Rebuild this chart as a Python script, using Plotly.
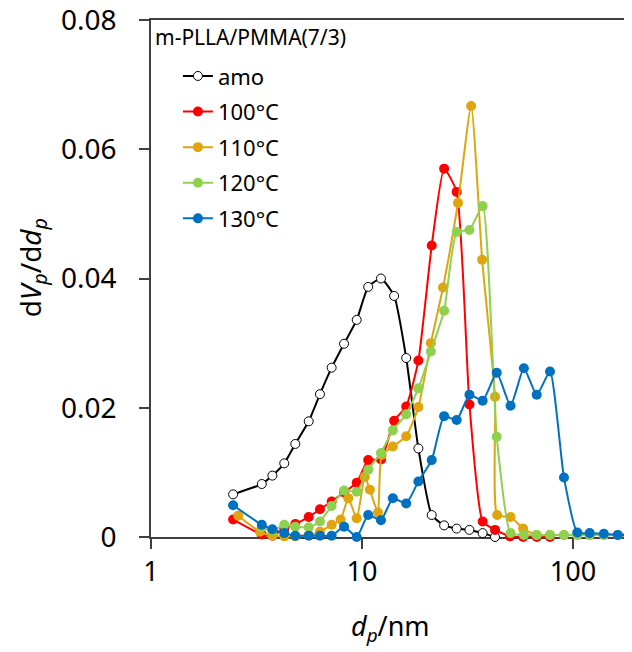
import plotly.graph_objects as go

# ---------------- data ----------------
d_amo = [2.45, 3.35, 3.76, 4.28, 4.83, 5.59, 6.32, 7.18, 8.22, 9.44, 10.7, 12.3,
         14.2, 16.2, 18.5, 21.4, 24.5, 28.1, 32.3, 37.3, 42.7]
v_amo = [0.0066, 0.0082, 0.0095, 0.0114, 0.0144, 0.0179, 0.0221, 0.0262, 0.0299, 0.0336,
         0.0387, 0.0400, 0.0373, 0.0277, 0.0137, 0.0034, 0.0018, 0.0013, 0.0011, 0.0006, 0.0000]

d_100 = [2.45, 3.35, 3.76, 4.28, 4.83, 5.59, 6.32, 7.18, 8.22, 9.44, 10.7, 12.3,
         14.2, 16.2, 18.5, 21.4, 24.5, 28.1, 32.3, 37.3, 42.7, 50.3, 58.0, 67.3, 77.8]
v_100 = [0.0027, 0.0004, 0.0002, 0.0013, 0.0020, 0.0031, 0.0043, 0.0055, 0.0069, 0.0084,
         0.0119, 0.0120, 0.0180, 0.0202, 0.0273, 0.0451, 0.0570, 0.0534, 0.0205, 0.0024,
         0.0011, 0.0001, 0.0000, 0.0000, 0.0000]

d_110 = [2.59, 3.28, 3.76, 4.28, 4.83, 5.59, 6.32, 7.18, 7.92, 8.61, 9.44, 10.3, 10.9,
         11.9, 12.4, 14.0, 16.2, 18.5, 21.2, 24.2, 28.5, 32.9, 37.1, 42.7, 43.7, 50.6,
         58.0, 67.3, 77.8, 90.6, 104.8, 120, 140, 163, 183]
v_110 = [0.0033, 0.0008, 0.0002, 0.0001, 0.0001, 0.0003, 0.0008, 0.0019, 0.0027, 0.0060,
         0.0029, 0.0093, 0.0073, 0.0038, 0.0127, 0.0140, 0.0156, 0.0201, 0.0300, 0.0386,
         0.0517, 0.0667, 0.0429, 0.0217, 0.0034, 0.0031, 0.0013, 0.0003, 0.0003, 0.0003,
         0.0003, 0.0003, 0.0003, 0.0003, 0.0003]

d_120 = [3.35, 3.76, 4.28, 4.83, 5.59, 6.32, 7.18, 8.22, 9.44, 10.7, 12.3, 14.0, 16.2,
         18.5, 21.2, 24.5, 28.1, 32.3, 37.3, 43.5, 50.6, 58.5, 67.3, 77.8, 90.6, 104.8,
         120, 140, 163, 183]
v_120 = [0.0015, 0.0010, 0.0019, 0.0016, 0.0015, 0.0024, 0.0048, 0.0072, 0.0070, 0.0104,
         0.0130, 0.0165, 0.0190, 0.0230, 0.0287, 0.0350, 0.0472, 0.0475, 0.0512, 0.0155,
         0.0006, 0.0003, 0.0003, 0.0003, 0.0003, 0.0003, 0.0003, 0.0003, 0.0003, 0.0003]

d_130 = [2.45, 3.35, 3.76, 4.28, 4.83, 5.59, 6.32, 7.18, 8.22, 9.44, 10.7, 12.3, 14.0,
         16.2, 18.5, 21.4, 24.5, 28.1, 32.3, 37.3, 43.5, 50.6, 58.5, 67.3, 77.8, 90.6,
         104.8, 120, 140, 163, 183]
v_130 = [0.0049, 0.0019, 0.0012, 0.0006, 0.0002, 0.0002, 0.0002, 0.0002, 0.0016, 0.0000,
         0.0034, 0.0026, 0.0060, 0.0052, 0.0086, 0.0119, 0.0187, 0.0181, 0.0220, 0.0211,
         0.0254, 0.0203, 0.0261, 0.0220, 0.0256, 0.0092, 0.0007, 0.0006, 0.0005, 0.0003,
         0.0003]

series_names = ["amo", "100°C", "110°C", "120°C", "130°C"]
x_tick_vals = [1, 10, 100]
x_tick_text = ["1", "10", "100"]
y_tick_vals = [0, 0.02, 0.04, 0.06, 0.08]
y_tick_text = ["0", "0.02", "0.04", "0.06", "0.08"]
sample_label = "m-PLLA/PMMA(7/3)"

# ---------------- styling ----------------
FONT = "Noto Sans"
AXIS_COLOR = "#404040"
colors = ["black", "#FF0000", "#E0A50C", "#8FD14F", "#0070C0"]
data = [(d_amo, v_amo), (d_100, v_100), (d_110, v_110), (d_120, v_120), (d_130, v_130)]

fig = go.Figure()
for i, (name, (xs, ys), col) in enumerate(zip(series_names, data, colors)):
    if name == "amo":
        marker = dict(size=9, color="white", line=dict(color="black", width=1))
    else:
        marker = dict(size=10, color=col, line=dict(width=0))
    fig.add_trace(go.Scatter(
        x=xs, y=ys, name=name, mode="lines+markers",
        line=dict(color=col, width=2, shape="spline", smoothing=0.5),
        marker=marker, legendgroup=f"g{i}", cliponaxis=False,
    ))

# the page body adds an 8 px offset, so the figure is 8 px smaller
fig.update_layout(
    width=624, height=644,
    margin=dict(l=143, r=0, t=12, b=115, autoexpand=False),
    plot_bgcolor="white", paper_bgcolor="white",
    font=dict(family=FONT, color="black"),
    showlegend=True,
    legend=dict(
        x=0.056, y=0.932, xanchor="left", yanchor="top",
        font=dict(family=FONT, size=22, color="black"),
        itemwidth=30, tracegroupgap=4, traceorder="grouped",
        bgcolor="rgba(0,0,0,0)", borderwidth=0,
    ),
    annotations=[
        dict(text=sample_label, xref="paper", yref="paper", x=0.004, y=0.967,
             xanchor="left", yanchor="middle", showarrow=False,
             font=dict(family=FONT, size=21, color="black")),
        dict(text="d<i>V</i><sub><i>p</i></sub>/d<i>d</i><sub><i>p</i></sub>",
             xref="paper", yref="paper", x=-0.247, y=0.52, textangle=-90,
             xanchor="center", yanchor="middle", showarrow=False,
             font=dict(family=FONT, size=28, color="black")),
        dict(text="<i>d</i><sub><i>p</i></sub>/nm",
             xref="paper", yref="paper", x=0.497, y=-0.176,
             xanchor="center", yanchor="middle", showarrow=False,
             font=dict(family=FONT, size=27, color="black")),
    ],
)

fig.update_xaxes(
    type="log", range=[0, 2.2796],
    tickvals=x_tick_vals, ticktext=x_tick_text,
    ticks="outside", ticklen=10, tickwidth=1.5, tickcolor=AXIS_COLOR,
    showline=True, linecolor=AXIS_COLOR, linewidth=1.5, mirror=True,
    showgrid=False, zeroline=False, layer="below traces",
    ticklabeloverflow="allow",
    tickfont=dict(family=FONT, size=27, color="black"),
)
fig.update_yaxes(
    range=[0, 0.08],
    tickvals=y_tick_vals, ticktext=y_tick_text,
    ticks="outside", ticklen=10, tickwidth=1.5, tickcolor=AXIS_COLOR,
    showline=True, linecolor=AXIS_COLOR, linewidth=1.5,
    showgrid=False, zeroline=False, layer="below traces",
    ticklabelstandoff=17, ticklabeloverflow="allow",
    tickfont=dict(family=FONT, size=28, color="black"),
)

fig.write_html("out.html")
